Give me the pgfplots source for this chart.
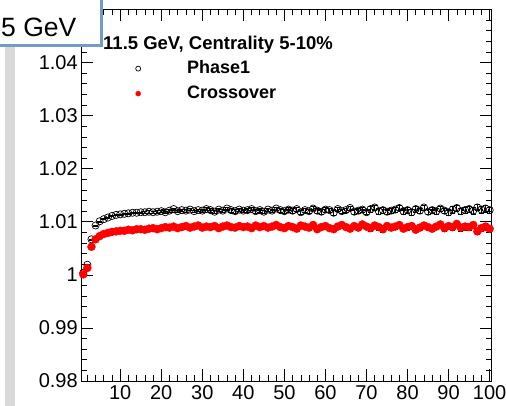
\documentclass[border=0pt]{standalone}
\usepackage{fontspec}
\setmainfont{Liberation Sans}
\usepackage{pgfplots}
\usepackage{pgfplotstable}
\pgfplotsset{compat=1.18}
\definecolor{boxblue}{RGB}{115,155,200}
\definecolor{bargrey}{RGB}{217,217,217}
\definecolor{rootred}{RGB}{255,0,0}

\pgfplotstableread{
x y e
1 1.0004 0.0001
2 1.0019 0.0001
3 1.0067 0.0001
4 1.0093 0.0001
5 1.0101 0.0001
6 1.0105 0.0001
7 1.0108 0.0001
8 1.0111 0.0001
9 1.0113 0.0001
10 1.0114 0.0001
11 1.0115 0.0001
12 1.0116 0.0001
13 1.0117 0.0001
14 1.0117 0.0001
15 1.0118 0.0001
16 1.0118 0.0002
17 1.0119 0.0002
18 1.0118 0.0002
19 1.0119 0.0002
20 1.0120 0.0002
21 1.0118 0.0002
22 1.0121 0.0002
23 1.0124 0.0002
24 1.0120 0.0002
25 1.0122 0.0002
26 1.0121 0.0002
27 1.0123 0.0002
28 1.0120 0.0002
29 1.0122 0.0002
30 1.0121 0.0002
31 1.0124 0.0003
32 1.0122 0.0003
33 1.0119 0.0003
34 1.0123 0.0003
35 1.0121 0.0003
36 1.0125 0.0003
37 1.0122 0.0003
38 1.0120 0.0003
39 1.0123 0.0003
40 1.0121 0.0003
41 1.0122 0.0003
42 1.0124 0.0003
43 1.0120 0.0003
44 1.0122 0.0003
45 1.0119 0.0003
46 1.0123 0.0003
47 1.0121 0.0003
48 1.0125 0.0003
49 1.0122 0.0003
50 1.0120 0.0003
51 1.0123 0.0004
52 1.0121 0.0004
53 1.0124 0.0004
54 1.0118 0.0004
55 1.0122 0.0004
56 1.0120 0.0004
57 1.0125 0.0004
58 1.0121 0.0004
59 1.0119 0.0004
60 1.0123 0.0004
61 1.0122 0.0004
62 1.0117 0.0004
63 1.0124 0.0004
64 1.0120 0.0004
65 1.0122 0.0004
66 1.0126 0.0004
67 1.0119 0.0004
68 1.0121 0.0004
69 1.0123 0.0004
70 1.0118 0.0004
71 1.0124 0.0005
72 1.0127 0.0005
73 1.0120 0.0005
74 1.0122 0.0005
75 1.0119 0.0005
76 1.0121 0.0005
77 1.0123 0.0005
78 1.0126 0.0005
79 1.0120 0.0005
80 1.0122 0.0005
81 1.0118 0.0005
82 1.0124 0.0005
83 1.0121 0.0005
84 1.0127 0.0005
85 1.0119 0.0005
86 1.0122 0.0005
87 1.0120 0.0005
88 1.0125 0.0005
89 1.0121 0.0005
90 1.0118 0.0005
91 1.0123 0.0006
92 1.0126 0.0006
93 1.0120 0.0006
94 1.0122 0.0006
95 1.0124 0.0006
96 1.0121 0.0006
97 1.0127 0.0006
98 1.0123 0.0006
99 1.0125 0.0006
100 1.0122 0.0006
}\phaseone

\pgfplotstableread{
x y e
1 1.0001 0.0001
2 1.0013 0.0001
3 1.0053 0.0001
4 1.0067 0.0001
5 1.0073 0.0001
6 1.0077 0.0001
7 1.0079 0.0001
8 1.0081 0.0001
9 1.0082 0.0001
10 1.0083 0.0001
11 1.0083 0.0001
12 1.0085 0.0001
13 1.0084 0.0001
14 1.0086 0.0001
15 1.0086 0.0001
16 1.0085 0.0002
17 1.0087 0.0002
18 1.0088 0.0002
19 1.0086 0.0002
20 1.0088 0.0002
21 1.0090 0.0002
22 1.0089 0.0002
23 1.0091 0.0002
24 1.0088 0.0002
25 1.0090 0.0002
26 1.0092 0.0002
27 1.0089 0.0002
28 1.0091 0.0002
29 1.0093 0.0002
30 1.0089 0.0002
31 1.0091 0.0003
32 1.0090 0.0003
33 1.0092 0.0003
34 1.0088 0.0003
35 1.0091 0.0003
36 1.0093 0.0003
37 1.0090 0.0003
38 1.0089 0.0003
39 1.0092 0.0003
40 1.0090 0.0003
41 1.0091 0.0003
42 1.0088 0.0003
43 1.0093 0.0003
44 1.0090 0.0003
45 1.0092 0.0003
46 1.0089 0.0003
47 1.0091 0.0003
48 1.0094 0.0003
49 1.0090 0.0003
50 1.0088 0.0003
51 1.0092 0.0004
52 1.0090 0.0004
53 1.0087 0.0004
54 1.0093 0.0004
55 1.0091 0.0004
56 1.0089 0.0004
57 1.0094 0.0004
58 1.0086 0.0004
59 1.0090 0.0004
60 1.0092 0.0004
61 1.0088 0.0004
62 1.0086 0.0004
63 1.0091 0.0004
64 1.0094 0.0004
65 1.0090 0.0004
66 1.0087 0.0004
67 1.0092 0.0004
68 1.0089 0.0004
69 1.0095 0.0004
70 1.0091 0.0004
71 1.0088 0.0005
72 1.0093 0.0005
73 1.0090 0.0005
74 1.0086 0.0005
75 1.0092 0.0005
76 1.0089 0.0005
77 1.0091 0.0005
78 1.0094 0.0005
79 1.0087 0.0005
80 1.0090 0.0005
81 1.0092 0.0005
82 1.0085 0.0005
83 1.0089 0.0005
84 1.0093 0.0005
85 1.0090 0.0005
86 1.0087 0.0005
87 1.0091 0.0005
88 1.0095 0.0005
89 1.0088 0.0005
90 1.0092 0.0005
91 1.0090 0.0006
92 1.0096 0.0006
93 1.0089 0.0006
94 1.0091 0.0006
95 1.0090 0.0006
96 1.0094 0.0006
97 1.0082 0.0006
98 1.0088 0.0006
99 1.0091 0.0006
100 1.0087 0.0006
}\crossover

\begin{document}
\begin{tikzpicture}
\useasboundingbox (0,0) rectangle (506bp,406bp);
\clip (0,0) rectangle (506bp,406bp);
\fill[white] (0,0) rectangle (506bp,406bp);
\fill[bargrey] (5bp,0) rectangle (15bp,360bp);
\begin{axis}[
  at={(81.2bp,25bp)}, anchor=south west,
  scale only axis, width=410.5bp, height=371.5bp,
  xmin=0.5, xmax=100.5, ymin=0.98, ymax=1.05,
  xtick={10,20,...,100},
  minor xtick={2,4,6,8,12,14,16,18,22,24,26,28,32,34,36,38,42,44,46,48,52,54,56,58,62,64,66,68,72,74,76,78,82,84,86,88,92,94,96,98},
  ytick={0.98,0.99,1,1.01,1.02,1.03,1.04},
  yticklabels={0.98,0.99,1,1.01,1.02,1.03,1.04},
  minor ytick={0.982,0.984,0.986,0.988,0.992,0.994,0.996,0.998,1.002,1.004,1.006,1.008,1.012,1.014,1.016,1.018,1.022,1.024,1.026,1.028,1.032,1.034,1.036,1.038,1.042,1.044,1.046,1.048},
  major tick length=12bp, minor tick length=6bp,
  tick style={black, line width=0.6bp},
  axis line style={line width=0.8bp},
  ticklabel style={font=\fontsize{20bp}{22bp}\selectfont},
  /pgf/number format/assume math mode=true,
  xticklabel style={yshift=-1bp},
  legend style={draw=none, fill=none, at={(rel axis cs:0.1067,0.875)}, anchor=north west,
    font=\fontsize{18bp}{19bp}\selectfont\bfseries,
    row sep=4bp,
    nodes={text height=12bp, text depth=3bp, inner sep=3bp}},
  legend cell align=left,
  legend image code/.code={\path[draw=none, fill=none] (0bp,-3bp) rectangle (56bp,3bp); \draw[#1, mark size=2.5bp] plot coordinates {(10bp,0bp)};},
  clip=false,
]
\addplot[only marks, mark=o, mark size=3.6bp, black, line width=0.7bp,
  error bars/.cd, y dir=both, y explicit, error bar style={black, line width=0.7bp}, error mark options={black, rotate=90, mark size=2.5bp}]
  table[x=x, y=y, y error=e] {\phaseone};
\addlegendentry{Phase1}
\addplot[only marks, mark=*, mark size=4bp, rootred, mark options={draw=rootred, fill=rootred},
  error bars/.cd, y dir=both, y explicit, error bar style={black, line width=0.7bp}, error mark options={black, rotate=90, mark size=2.5bp}]
  table[x=x, y=y, y error=e] {\crossover};
\addlegendentry{Crossover}
\addplot[black, line width=2.5bp, dash pattern=on 1.6bp off 1.6bp, forget plot] coordinates {(20,1.0122) (100.5,1.0122)};
\addplot[black, line width=2.5bp, dash pattern=on 1.6bp off 1.6bp, forget plot] coordinates {(20,1.0091) (100.5,1.0091)};
\end{axis}
\node[anchor=base west, inner sep=0pt, font=\fontsize{18.5bp}{20bp}\selectfont\bfseries] at (103bp,356bp) {11.5 GeV, Centrality 5-10\%};
\draw[boxblue, line width=3bp, fill=white] (-10bp,360bp) rectangle (101bp,420bp);
\node[anchor=base west, inner sep=0pt, font=\fontsize{26.5bp}{28bp}\selectfont] at (1bp,369bp) {5 GeV};
\end{tikzpicture}
\end{document}
